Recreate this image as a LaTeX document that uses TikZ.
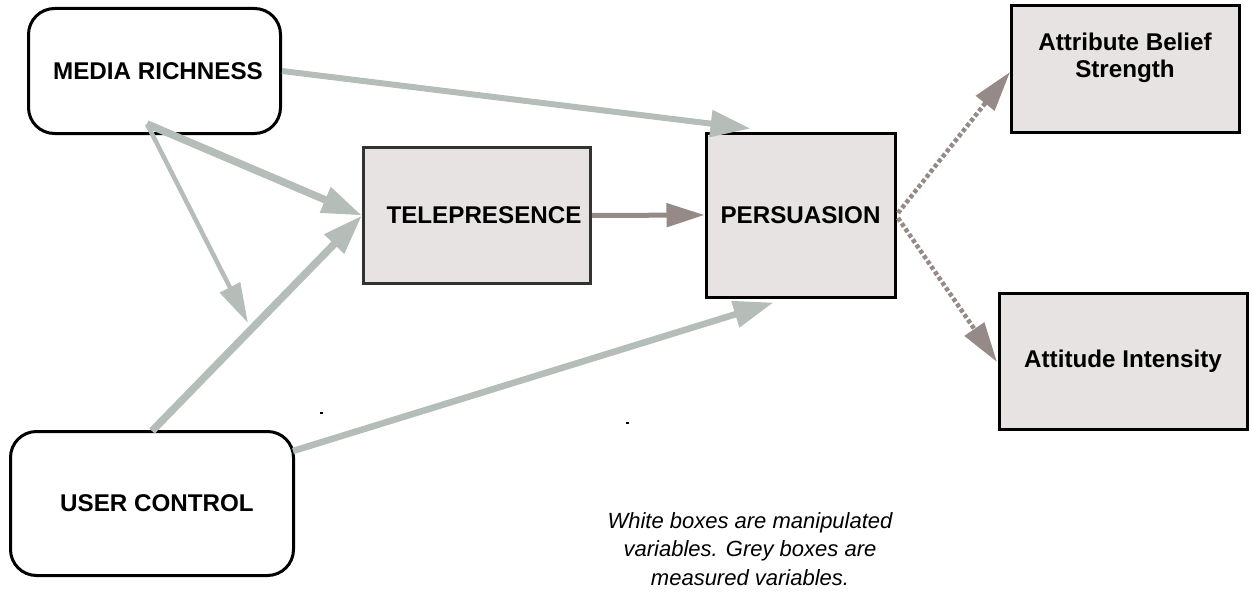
\documentclass[tikz,border=0pt]{standalone}
\usepackage{fontspec}
\setmainfont{Liberation Sans}
\usetikzlibrary{arrows.meta,calc}
\definecolor{sage}{RGB}{181,189,184}
\definecolor{taupe}{RGB}{149,138,136}
\definecolor{boxfill}{RGB}{230,227,226}
\definecolor{darkbd}{RGB}{50,50,50}
\tikzset{
  lbl/.style={font=\bfseries\fontsize{24.2}{27}\selectfont, align=center},
  wbox/.style={draw=black, line width=3pt, rounded corners=26pt, fill=white, inner sep=0pt, lbl},
  gbox/.style={draw=black, line width=3pt, fill=boxfill, inner sep=0pt, lbl},
  sagearrow/.style={draw=sage, -{Triangle[length=40pt,width=26pt]}},
  taupearrow/.style={draw=taupe, line width=5pt, -{Triangle[length=38pt,width=23pt]}},
  dasharrow/.style={draw=taupe, line width=4.5pt, dash pattern=on 4pt off 2.5pt, -{Triangle[length=40pt,width=23pt]}},
}
\begin{document}
\begin{tikzpicture}[x=1pt,y=-1pt]
\useasboundingbox (0,0) rectangle (1252,594);
\node[wbox, minimum width=252pt, minimum height=125pt] (mr) at (154.5,71) {\hspace*{7pt}MEDIA RICHNESS};
\node[wbox, minimum width=283pt, minimum height=144pt] (uc) at (152,503.5) {\hspace*{10pt}USER CONTROL};
\node[gbox, draw=darkbd, minimum width=227pt, minimum height=136pt] (tele) at (477,215.5) {\hspace*{14pt}TELEPRESENCE};
\node[gbox, minimum width=189pt, minimum height=164pt] (pers) at (800.5,215) {PERSUASION};
\node[gbox, minimum width=228pt, minimum height=126pt, label={[lbl, yshift=11pt]center:{Attribute Belief\\Strength}}] (abs) at (1125,69) {};
\node[gbox, minimum width=248pt, minimum height=136pt] (ai) at (1123,361) {Attitude Intensity};
\node[font=\itshape\fontsize{22}{28.5}\selectfont, align=center] (note) at (750,549) {White boxes are manipulated\\variables. Grey boxes are\\measured variables.};
% free ends
\coordinate (mrs) at (147,124);
\coordinate (mre) at (mr.east);
\coordinate (ucn) at (152,431);
\coordinate (uce) at (293,451);
\coordinate (mid) at (248,323);
\coordinate (persn) at ($(pers.north west)+(46,-3)$);
\coordinate (perss) at ($(pers.south west)+(69,4)$);
\coordinate (persr1) at (898,213);
\coordinate (persr2) at (898,218);
\coordinate (abstip) at (1010,72);
\coordinate (aitip) at (997,362);
% arrows
\draw[sagearrow, line width=6pt] (mre) -- (persn);
\draw[sagearrow, line width=7.5pt] (mrs) -- (tele.west);
\draw[sagearrow, line width=4.5pt, -{Triangle[length=40pt,width=22pt]}] (mrs) -- (mid);
\draw[sagearrow, line width=7.5pt] (ucn) -- (tele.west);
\draw[sagearrow, line width=6.5pt] (uce) -- (perss);
\draw[taupearrow] (tele.east) -- (pers.west);
\draw[dasharrow] (persr1) -- (abstip);
\draw[dasharrow] (persr2) -- (aitip);
% tiny marks
\fill[black] (320,412) rectangle (322.5,414);
\fill[black] (626,422) rectangle (628.5,424);
\end{tikzpicture}
\end{document}
